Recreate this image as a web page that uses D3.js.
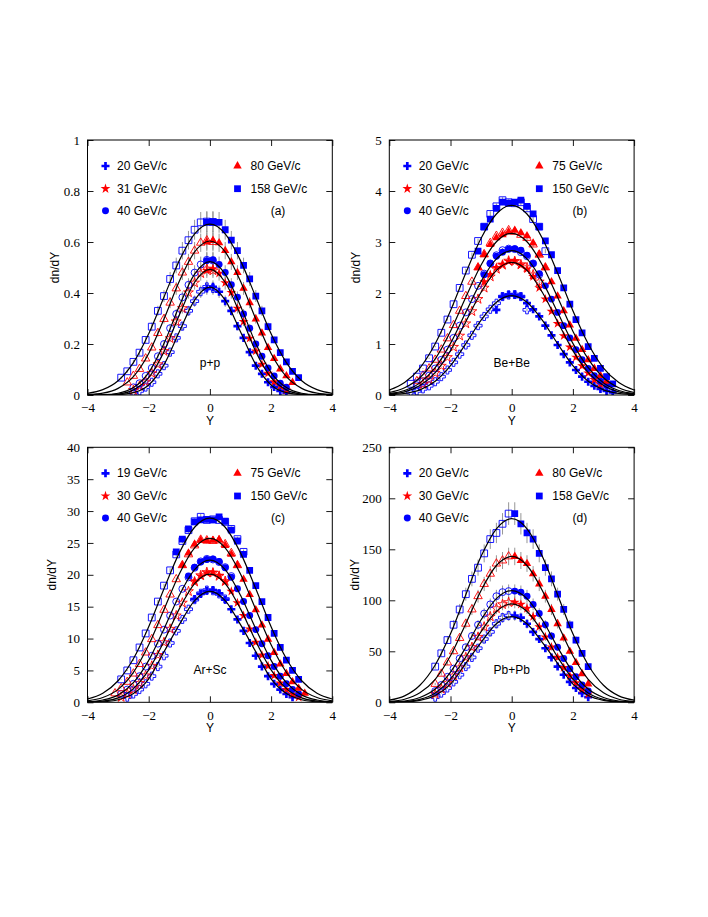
<!DOCTYPE html>
<html><head><meta charset="utf-8">
<script src="https://cdn.jsdelivr.net/npm/d3@7"></script>
<style>body{margin:0;background:#fff} svg{display:block}</style>
</head><body>
<svg id="chart" width="708" height="917"></svg>
<script>
// ---------------- DATA ----------------
const panelNames = ["p+p", "Be+Be", "Ar+Sc", "Pb+Pb"];
const panelTags = ["(a)", "(b)", "(c)", "(d)"];
const labelsA = ["20 GeV/c", "31 GeV/c", "40 GeV/c", "80 GeV/c", "158 GeV/c"];
const labelsB = ["20 GeV/c", "30 GeV/c", "40 GeV/c", "75 GeV/c", "150 GeV/c"];
const labelsC = ["19 GeV/c", "30 GeV/c", "40 GeV/c", "75 GeV/c", "150 GeV/c"];
const labelsD = ["20 GeV/c", "30 GeV/c", "40 GeV/c", "80 GeV/c", "158 GeV/c"];
const xTicks = [-4, -2, 0, 2, 4];
const yTicksA = [0, 0.2, 0.4, 0.6, 0.8, 1];
const yTicksB = [0, 1, 2, 3, 4, 5];
const yTicksC = [0, 5, 10, 15, 20, 25, 30, 35, 40];
const yTicksD = [0, 50, 100, 150, 200, 250];
const relErr = [0.06, 0.015, 0.015, 0.06];

// rapidity grid of the fitted curves (mirrored to negative Y)
const fitY = [0, 0.5, 1, 1.5, 2, 2.5, 3, 3.5, 4];

// ---- p+p ----
const yA20 = [-0.1,0.1,0.3,0.5,0.7,0.9,1.1,1.3,1.5,1.7,1.9,2.1,2.3,2.5];
const vA20 = [0.418,0.424,0.405,0.368,0.33,0.27,0.224,0.168,0.115,0.083,0.05,0.031,0.016,0.009];
const yA31 = [-0.1,0.1,0.3,0.5,0.7,0.9,1.1,1.3,1.5,1.7,1.9,2.1,2.3,2.5];
const vA31 = [0.488,0.495,0.477,0.44,0.402,0.34,0.288,0.222,0.172,0.12,0.085,0.052,0.035,0.019];
const yA40 = [-0.1,0.1,0.3,0.5,0.7,0.9,1.1,1.3,1.5,1.7,1.9,2.1,2.3,2.5];
const vA40 = [0.527,0.53,0.512,0.48,0.432,0.383,0.318,0.262,0.2,0.152,0.106,0.075,0.046,0.03];
const yA80 = [-0.1,0.1,0.3,0.5,0.7,0.9,1.1,1.3,1.5,1.7,1.9,2.1,2.3,2.5,2.7];
const vA80 = [0.6,0.606,0.597,0.566,0.522,0.48,0.418,0.362,0.298,0.243,0.186,0.143,0.102,0.075,0.049];
const yA158 = [-0.1,0.1,0.3,0.5,0.7,0.9,1.1,1.3,1.5,1.7,1.9,2.1,2.3,2.5,2.7,2.9];
const vA158 = [0.678,0.68,0.677,0.648,0.607,0.566,0.508,0.455,0.388,0.33,0.268,0.216,0.166,0.13,0.093,0.068];
const fA20 = [0.423,0.372,0.248,0.119,0.039,0.009,0.0013,0.0001,0];
const fA31 = [0.493,0.442,0.314,0.170,0.068,0.020,0.0037,0.0005,0];
const fA40 = [0.523,0.474,0.349,0.202,0.088,0.029,0.0068,0.0012,0.0002];
const fA80 = [0.604,0.561,0.446,0.298,0.163,0.072,0.026,0.007,0.0015];
const fA158 = [0.67,0.632,0.527,0.384,0.240,0.127,0.056,0.021,0.0066];

// ---- Be+Be ----
const yB20 = [-0.5,-0.3,-0.1,0.1,0.3,0.5,0.7,0.9,1.1,1.3,1.5,1.7,1.9,2.1,2.3,2.5,2.7,2.9,3.1,3.3];
const vB20 = [1.67,1.93,1.97,1.96,1.93,1.80,1.68,1.54,1.36,1.17,0.98,0.80,0.64,0.49,0.36,0.26,0.18,0.12,0.08,0.05];
const yB30 = [-0.9,-0.7,-0.5,-0.3,-0.1,0.1,0.3,0.5,0.7,0.9,1.1,1.3,1.5,1.7,1.9,2.1,2.3,2.5,2.7,2.9];
const vB30 = [2.22,2.36,2.50,2.56,2.62,2.63,2.55,2.47,2.32,2.10,1.88,1.64,1.40,1.16,0.94,0.74,0.57,0.43,0.30,0.21];
const yB40 = [-0.9,-0.7,-0.5,-0.3,-0.1,0.1,0.3,0.5,0.7,0.9,1.1,1.3,1.5,1.7,1.9,2.1,2.3,2.5,2.7,2.9,3.1];
const vB40 = [2.36,2.58,2.72,2.80,2.86,2.87,2.84,2.74,2.58,2.38,2.14,1.88,1.62,1.36,1.12,0.89,0.69,0.52,0.38,0.27,0.19];
const yB75 = [-1.1,-0.9,-0.7,-0.5,-0.3,-0.1,0.1,0.3,0.5,0.7,0.9,1.1,1.3,1.5,1.7,1.9,2.1,2.3,2.5,2.7,2.9,3.1];
const vB75 = [2.50,2.75,2.95,3.08,3.14,3.20,3.23,3.18,3.12,2.98,2.76,2.50,2.22,1.94,1.65,1.37,1.11,0.89,0.69,0.52,0.38,0.27];
const yB150 = [-1.1,-0.9,-0.7,-0.5,-0.3,-0.1,0.1,0.3,0.5,0.7,0.9,1.1,1.3,1.5,1.7,1.9,2.1,2.3,2.5,2.7,2.9,3.1,3.3];
const vB150 = [2.82,3.30,3.45,3.66,3.78,3.76,3.78,3.82,3.70,3.55,3.30,3.02,2.75,2.44,2.10,1.78,1.48,1.22,0.95,0.72,0.52,0.36,0.22];
const fB20 = [1.95,1.819,1.468,1.006,0.575,0.269,0.101,0.031,0.007];
const fB30 = [2.6,2.444,2.015,1.438,0.871,0.439,0.185,0.062,0.018];
const fB40 = [2.83,2.669,2.227,1.622,1.013,0.535,0.238,0.088,0.028];
const fB75 = [3.17,3.005,2.549,1.915,1.252,0.707,0.339,0.143,0.049];
const fB150 = [3.72,3.549,3.073,2.392,1.652,1.004,0.528,0.246,0.097];

// ---- Ar+Sc ----
const yC19 = [-0.5,-0.3,-0.1,0.1,0.3,0.5,0.7,0.9,1.1,1.3,1.5,1.7,1.9,2.1,2.3,2.5,2.7];
const vC19 = [16.2,17.0,17.5,17.6,17.1,16.1,14.6,13.0,11.2,9.3,7.3,5.6,4.1,2.9,2.0,1.3,0.8];
const yC30 = [-0.5,-0.3,-0.1,0.1,0.3,0.5,0.7,0.9,1.1,1.3,1.5,1.7,1.9,2.1,2.3,2.5,2.7,2.9];
const vC30 = [19.0,19.8,20.3,20.4,19.9,18.9,17.4,15.6,13.6,11.5,9.4,7.4,5.7,4.2,3.0,2.0,1.3,0.8];
const yC40 = [-0.7,-0.5,-0.3,-0.1,0.1,0.3,0.5,0.7,0.9,1.1,1.3,1.5,1.7,1.9,2.1,2.3,2.5,2.7,2.9];
const vC40 = [19.8,21.2,22.0,22.4,22.5,22.1,21.1,19.6,17.8,15.8,13.6,11.4,9.2,7.3,5.6,4.1,2.9,2.0,1.3];
const yC75 = [-0.9,-0.7,-0.5,-0.3,-0.1,0.1,0.3,0.5,0.7,0.9,1.1,1.3,1.5,1.7,1.9,2.1,2.3,2.5,2.7,2.9,3.1];
const vC75 = [21.5,23.4,24.8,25.4,25.3,25.4,25.5,24.6,23.2,21.5,19.3,16.9,14.5,12.1,9.9,7.8,6.0,4.5,3.2,2.2,1.4];
const yC150 = [-1.1,-0.9,-0.7,-0.5,-0.3,-0.1,0.1,0.3,0.5,0.7,0.9,1.1,1.3,1.5,1.7,1.9,2.1,2.3,2.5,2.7,2.9];
const vC150 = [23.6,25.6,27.2,28.3,28.6,28.7,28.6,29.1,28.4,27.0,25.3,23.2,20.7,18.3,15.8,13.3,10.8,8.6,6.6,5.0,3.6];
const fC19 = [17.4,15.96,12.18,7.92,3.69,1.37,0.40,0.085,0.016];
const fC30 = [20.1,18.61,14.65,9.57,5.09,2.15,0.70,0.195,0.038];
const fC40 = [22.3,20.81,16.79,11.51,6.58,3.08,1.16,0.357,0.085];
const fC75 = [25.7,24.21,20.12,14.55,9.02,4.70,2.03,0.745,0.231];
const fC150 = [28.9,27.46,23.44,17.80,11.85,6.82,3.38,1.42,0.52];

// ---- Pb+Pb ----
const yD = [0.1,0.3,0.5,0.7,0.9,1.1,1.3,1.5,1.7,1.9,2.1,2.3,2.5];
const vD20 = [85,83,77,69,62,53,44,35,27,20,14,9,5];
const vD30 = [98,96,92,84,74,64,54,44,34,26,19,13,8];
const vD40 = [109,108,104,96,87,76,65,54,43,33,25,17,11];
const vD80 = [143,139,136,126,116,104,91,77,63,50,39,28,18];
const vD158 = [185,175,166,160,146,132,121,106,91,76,61,48,35];
const fD20 = [84,77.0,58.8,38.2,17.8,6.6,1.9,0.4,0.08];
const fD30 = [96.5,89.0,69.3,44.4,22.8,9.2,2.9,0.7,0.13];
const fD40 = [109.5,101.7,80.9,54.0,29.6,13.0,4.7,1.27,0.26];
const fD80 = [143,134.1,109.7,77.1,45.6,22.5,9.3,3.0,0.8];
const fD158 = [180,170.1,143.1,105.5,67.1,36.6,16.7,6.3,2.1];

// ---------------- ASSEMBLY ----------------
const panelData = [
  {labels: labelsA, yTicks: yTicksA, series: [[yA20,vA20,fA20],[yA31,vA31,fA31],[yA40,vA40,fA40],[yA80,vA80,fA80],[yA158,vA158,fA158]]},
  {labels: labelsB, yTicks: yTicksB, series: [[yB20,vB20,fB20],[yB30,vB30,fB30],[yB40,vB40,fB40],[yB75,vB75,fB75],[yB150,vB150,fB150]]},
  {labels: labelsC, yTicks: yTicksC, series: [[yC19,vC19,fC19],[yC30,vC30,fC30],[yC40,vC40,fC40],[yC75,vC75,fC75],[yC150,vC150,fC150]]},
  {labels: labelsD, yTicks: yTicksD, series: [[yD,vD20,fD20],[yD,vD30,fD30],[yD,vD40,fD40],[yD,vD80,fD80],[yD,vD158,fD158]]}
];

// ---------------- STYLE / LAYOUT ----------------
const geo = [
  {l: 87.5, t: 140, ylab: -32.5},
  {l: 389.3, t: 140, ylab: -33.5},
  {l: 87.5, t: 447.3, ylab: -35.5},
  {l: 389.3, t: 447.3, ylab: -34.5}
];
const PW = 244.8, PH = 255;
const BLUE = "#0000ff", RED = "#ff0000";
const markerStyle = [
  {type: d3.symbolCross, size: 36, color: BLUE},
  {type: d3.symbolStar, size: 30, color: RED},
  {type: d3.symbolCircle, size: 38, color: BLUE},
  {type: d3.symbolTriangle, size: 31, color: RED},
  {type: d3.symbolSquare, size: 46, color: BLUE}
];
const serif = "'Liberation Serif','Times New Roman',serif";
const sans = "'Liberation Sans',Arial,Helvetica,sans-serif";
const fmtMinus = d => (d < 0 ? "\u2212" + Math.abs(d) : String(d));

const svg = d3.select("#chart");
svg.append("rect").attr("width", 708).attr("height", 917).attr("fill", "#fff");

panelData.forEach((pd, pi) => {
  const g0 = geo[pi];
  const yMax = pd.yTicks[pd.yTicks.length - 1];
  const x = d3.scaleLinear().domain([-4, 4]).range([0, PW]);
  const y = d3.scaleLinear().domain([0, yMax]).range([PH, 0]);
  const g = svg.append("g").attr("transform", `translate(${g0.l},${g0.t})`);

  const clipId = "clip" + pi;
  g.append("clipPath").attr("id", clipId).append("rect").attr("width", PW).attr("height", PH);
  const plot = g.append("g").attr("clip-path", `url(#${clipId})`);

  // error bars (behind markers)
  const eb = plot.append("g").attr("stroke", "#8a8a8a").attr("stroke-width", 0.9);
  pd.series.forEach(([Ys, Vs]) => {
    Ys.forEach((yy, i) => {
      const v = Vs[i], e = v * relErr[pi];
      [yy, -yy].forEach(xx => {
        eb.append("line").attr("x1", x(xx)).attr("x2", x(xx))
          .attr("y1", y(v - e)).attr("y2", y(v + e));
      });
    });
  });

  // open (reflected) markers
  pd.series.forEach(([Ys, Vs], si) => {
    const ms = markerStyle[si];
    const sym = d3.symbol().type(ms.type).size(ms.size);
    plot.append("g").selectAll("path").data(Ys.map((yy, i) => [-yy, Vs[i]])).join("path")
      .attr("d", sym)
      .attr("transform", d => `translate(${x(d[0])},${y(d[1])})`)
      .attr("fill", "none").attr("stroke", ms.color).attr("stroke-width", 0.9);
  });
  // filled (measured) markers
  pd.series.forEach(([Ys, Vs], si) => {
    const ms = markerStyle[si];
    const sym = d3.symbol().type(ms.type).size(ms.size);
    plot.append("g").selectAll("path").data(Ys.map((yy, i) => [yy, Vs[i]])).join("path")
      .attr("d", sym)
      .attr("transform", d => `translate(${x(d[0])},${y(d[1])})`)
      .attr("fill", ms.color);
  });

  // fit curves
  const line = d3.line().x(d => x(d[0])).y(d => y(d[1])).curve(d3.curveMonotoneX);
  pd.series.forEach(([, , F]) => {
    const pts = [];
    for (let i = fitY.length - 1; i >= 1; i--) pts.push([-fitY[i], F[i]]);
    for (let i = 0; i < fitY.length; i++) pts.push([fitY[i], F[i]]);
    plot.append("path").attr("d", line(pts)).attr("fill", "none")
      .attr("stroke", "#000").attr("stroke-width", 1.2);
  });

  // axes with inward ticks
  const styleAxis = sel => {
    sel.select(".domain").remove();
    sel.selectAll(".tick line").attr("stroke", "#000").attr("stroke-width", 0.9);
    sel.selectAll("text").attr("font-family", serif).attr("font-size", 13).attr("fill", "#000");
  };
  g.append("g").attr("transform", `translate(0,${PH})`)
    .call(d3.axisBottom(x).tickValues(xTicks).tickSizeInner(-6).tickSizeOuter(0).tickPadding(8).tickFormat(fmtMinus))
    .call(styleAxis);
  g.append("g")
    .call(d3.axisTop(x).tickValues(xTicks).tickSizeInner(-6).tickSizeOuter(0).tickFormat(""))
    .call(styleAxis);
  g.append("g")
    .call(d3.axisLeft(y).tickValues(pd.yTicks).tickSizeInner(-6).tickSizeOuter(0).tickPadding(7.5).tickFormat(d => String(d)))
    .call(styleAxis);
  g.append("g").attr("transform", `translate(${PW},0)`)
    .call(d3.axisRight(y).tickValues(pd.yTicks).tickSizeInner(-6).tickSizeOuter(0).tickFormat(""))
    .call(styleAxis);

  // frame
  g.append("rect").attr("width", PW).attr("height", PH).attr("fill", "none")
    .attr("stroke", "#000").attr("stroke-width", 1);

  // axis titles
  g.append("text").attr("x", PW / 2).attr("y", PH + 26).attr("dy", "0.35em")
    .attr("text-anchor", "middle").attr("font-family", sans).attr("font-size", 12).text("Y");
  g.append("text").attr("transform", `translate(${g0.ylab},${PH / 2}) rotate(-90)`)
    .attr("dy", "0.35em").attr("text-anchor", "middle").attr("font-family", sans)
    .attr("font-size", 12).text("dn/dY");

  // system label
  g.append("text").attr("x", PW / 2).attr("y", 223).attr("dy", "0.35em")
    .attr("text-anchor", "middle").attr("font-family", sans).attr("font-size", 12)
    .text(panelNames[pi]);

  // legend
  const rows = [26, 48.7, 70.7];
  pd.labels.forEach((lab, si) => {
    const col = si < 3 ? 0 : 1;
    const row = si < 3 ? si : si - 3;
    const sx = col === 0 ? 18 : 150;
    const tx = col === 0 ? 29.5 : 163;
    const ms = markerStyle[si];
    g.append("path").attr("d", d3.symbol().type(ms.type).size(ms.size)())
      .attr("transform", `translate(${sx},${rows[row]})`).attr("fill", ms.color);
    g.append("text").attr("x", tx).attr("y", rows[row]).attr("dy", "0.35em")
      .attr("font-family", sans).attr("font-size", 12).text(lab);
  });
  g.append("text").attr("x", 190.5).attr("y", rows[2]).attr("dy", "0.35em")
    .attr("text-anchor", "middle").attr("font-family", sans).attr("font-size", 12)
    .text(panelTags[pi]);
});
</script>
</body></html>
